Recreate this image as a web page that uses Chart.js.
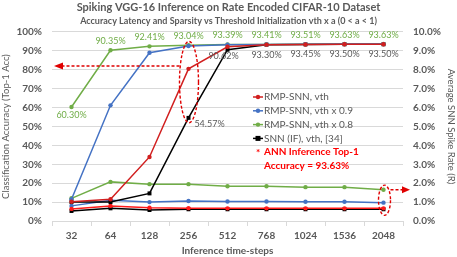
<!DOCTYPE html>
<html>
<head>
<meta charset="utf-8">
<script src="https://cdn.jsdelivr.net/npm/chart.js@4.4.1/dist/chart.umd.min.js"></script>
<style>
html,body{margin:0;padding:0;background:#fff;}
#wrap{width:457px;height:257px;}
</style>
</head>
<body>
<div id="wrap"><canvas id="c" width="457" height="257"></canvas></div>
<script>
// ---- data ----
const categories = ['32','64','128','256','512','768','1024','1536','2048'];
const seriesNames = ['RMP-SNN, vth','RMP-SNN, vth x 0.9','RMP-SNN, vth x 0.8','SNN (IF), vth, [34]'];
// Top-1 accuracy (%)
const accRmpVth = [10.2, 11.5, 33.9, 80.5, 92.2, 93.3, 93.4, 93.5, 93.5];
const accRmp09  = [11.5, 61.2, 89.0, 92.6, 93.3, 93.4, 93.5, 93.6, 93.6];
const accRmp08  = [60.30, 90.35, 92.41, 93.04, 93.39, 93.41, 93.51, 93.63, 93.63];
const accSnnIf  = [10.0, 10.0, 14.6, 54.57, 90.62, 93.30, 93.45, 93.50, 93.50];
// Average spike rate (%)
const spkRmpVth = [0.64, 0.80, 0.70, 0.68, 0.67, 0.67, 0.67, 0.67, 0.67];
const spkRmp09  = [0.80, 1.10, 1.00, 1.06, 1.03, 1.03, 1.02, 1.02, 0.97];
const spkRmp08  = [1.20, 2.07, 1.95, 1.95, 1.84, 1.84, 1.79, 1.79, 1.65];
const spkSnnIf  = [0.53, 0.67, 0.58, 0.62, 0.62, 0.62, 0.62, 0.62, 0.62];
const leftTicks = [0,10,20,30,40,50,60,70,80,90,100];
const annAccuracy = 93.63;
const highlightAcc = 82; // dashed arrow level (left axis)

const GRAY = '#595959';
const RED = '#d11f1f', RED2 = '#ff1a1a', BLUE = '#4472c4', GREEN = '#70ad47', BLACK = '#000000';
const FONT = 'Lato, "Open Sans", sans-serif';

function ds(label, data, color, axis, square) {
  return {
    label, data, yAxisID: axis, borderColor: color, backgroundColor: color,
    borderWidth: 1.5, pointRadius: square ? 2.8 : 2.2, pointStyle: square ? 'rect' : 'circle',
    pointBorderWidth: 0, tension: 0, fill: false
  };
}

const overlay = {
  id: 'overlay',
  afterDatasetsDraw(chart) {
    const ctx = chart.ctx, x = chart.scales.x, yl = chart.scales.y, yr = chart.scales.y2;
    ctx.save();
    ctx.font = '9px ' + FONT;
    ctx.textAlign = 'center'; ctx.textBaseline = 'middle';
    // green labels
    ctx.fillStyle = GREEN;
    accRmp08.forEach((v, i) => {
      const px = x.getPixelForValue(i), py = yl.getPixelForValue(v);
      ctx.fillText(v.toFixed(2) + '%', px, i === 0 ? py + 8 : py - 9);
    });
    // black labels
    ctx.fillStyle = GRAY;
    accSnnIf.forEach((v, i) => {
      if (i < 3) return;
      const px = x.getPixelForValue(i), py = yl.getPixelForValue(v);
      if (i === 3) ctx.fillText(v.toFixed(2) + '%', px + 21, py + 6);
      else if (i === 4) ctx.fillText(v.toFixed(2) + '%', px - 4, py + 6);
      else ctx.fillText(v.toFixed(2) + '%', px, py + 10);
    });
    // annotations
    ctx.strokeStyle = '#e00000'; ctx.fillStyle = '#e00000';
    ctx.lineWidth = 1.4; ctx.setLineDash([3, 2]);
    // ellipse around 256
    const ex = x.getPixelForValue(3);
    const eyTop = yl.getPixelForValue(95), eyBot = yl.getPixelForValue(52);
    const ecy = (eyTop + eyBot) / 2, ery = (eyBot - eyTop) / 2;
    ctx.beginPath(); ctx.ellipse(ex + 0.5, ecy, 9.5, ery, 0, 0, Math.PI * 2); ctx.stroke();
    // left arrow
    const ay = yl.getPixelForValue(highlightAcc);
    ctx.beginPath(); ctx.moveTo(ex - 9, ay); ctx.lineTo(chart.chartArea.left + 10, ay); ctx.stroke();
    ctx.setLineDash([]);
    ctx.beginPath(); ctx.moveTo(chart.chartArea.left + 2, ay); ctx.lineTo(chart.chartArea.left + 11, ay - 3.5);
    ctx.lineTo(chart.chartArea.left + 11, ay + 3.5); ctx.closePath(); ctx.fill();
    // ellipse around 2048
    ctx.setLineDash([3, 2]);
    const ex2 = x.getPixelForValue(8);
    const e2t = yr.getPixelForValue(1.9), e2b = yr.getPixelForValue(0.3);
    ctx.beginPath(); ctx.ellipse(ex2 + 1, (e2t + e2b) / 2, 6, (e2b - e2t) / 2, 0, 0, Math.PI * 2); ctx.stroke();
    const ay2 = yr.getPixelForValue(spkRmp08[8]);
    ctx.beginPath(); ctx.moveTo(ex2 + 7, ay2); ctx.lineTo(chart.chartArea.right + 1, ay2); ctx.stroke();
    ctx.setLineDash([]);
    ctx.beginPath(); ctx.moveTo(chart.chartArea.right + 7, ay2); ctx.lineTo(chart.chartArea.right - 1, ay2 - 3.5);
    ctx.lineTo(chart.chartArea.right - 1, ay2 + 3.5); ctx.closePath(); ctx.fill();
    ctx.restore();
  },
  afterDraw(chart) {
    const ctx = chart.ctx;
    ctx.save();
    const colors = [RED, BLUE, GREEN, BLACK];
    const lx = 253, ly0 = 97, step = 13.8;
    ctx.font = '10px ' + FONT; ctx.textBaseline = 'middle'; ctx.textAlign = 'left';
    seriesNames.forEach((n, i) => {
      const y = ly0 + i * step;
      ctx.strokeStyle = colors[i]; ctx.lineWidth = 1.5;
      ctx.beginPath(); ctx.moveTo(lx, y); ctx.lineTo(lx + 10, y); ctx.stroke();
      ctx.fillStyle = colors[i];
      if (i === 3) ctx.fillRect(lx + 2.5, y - 2.5, 5, 5);
      else { ctx.beginPath(); ctx.arc(lx + 5, y, 2.2, 0, Math.PI * 2); ctx.fill(); }
      ctx.fillStyle = GRAY;
      ctx.fillText(n, lx + 11, y);
    });
    ctx.fillStyle = '#ff0000';
    ctx.font = 'bold 10px ' + FONT;
    const y4 = ly0 + 4 * step;
    ctx.fillText('*', lx + 3, y4 + 1);
    ctx.fillText('ANN Inference Top-1', lx + 11, y4);
    ctx.fillText('Accuracy = ' + annAccuracy.toFixed(2) + '%', lx + 11, y4 + 14);
    ctx.restore();
  }
};

new Chart(document.getElementById('c'), {
  type: 'line',
  data: {
    labels: categories,
    datasets: [
      ds(seriesNames[0], accRmpVth, RED, 'y', false),
      ds(seriesNames[1], accRmp09, BLUE, 'y', false),
      ds(seriesNames[2], accRmp08, GREEN, 'y', false),
      ds(seriesNames[3], accSnnIf, BLACK, 'y', true),
      ds(seriesNames[0] + ' R', spkRmpVth, RED2, 'y2', false),
      ds(seriesNames[1] + ' R', spkRmp09, BLUE, 'y2', false),
      ds(seriesNames[2] + ' R', spkRmp08, GREEN, 'y2', false),
      ds(seriesNames[3] + ' R', spkSnnIf, BLACK, 'y2', true)
    ]
  },
  options: {
    responsive: false, animation: false, devicePixelRatio: 1,
    layout: { padding: { left: 0, right: 0, top: 0, bottom: 0 } },
    plugins: {
      legend: { display: false }, tooltip: { enabled: false },
      title: { display: true, text: 'Spiking VGG-16 Inference on Rate Encoded CIFAR-10 Dataset',
        color: GRAY, font: { family: FONT, size: 11, weight: 'bold' }, padding: { top: 1, bottom: 0 } },
      subtitle: { display: true, text: 'Accuracy Latency and Sparsity vs Threshold Initialization vth x a (0 < a < 1)',
        color: GRAY, font: { family: FONT, size: 9, weight: 'bold' }, padding: { top: 1, bottom: 6 } }
    },
    scales: {
      x: {
        offset: true,
        grid: { offset: true, drawOnChartArea: false, color: '#d9d9d9', tickLength: 5 },
        border: { color: '#d9d9d9' },
        ticks: { color: GRAY, font: { family: FONT, size: 10, weight: 'bold' }, padding: 4, maxRotation: 0 },
        title: { display: true, text: 'Inference time-steps', color: GRAY, font: { family: FONT, size: 10, weight: 'bold' }, padding: { top: 1, bottom: 0 } },
        afterFit(s) { s.height = 36; }
      },
      y: {
        position: 'left', min: 0, max: 100,
        afterBuildTicks(s) { s.ticks = leftTicks.map(v => ({ value: v })); },
        grid: { color: '#d9d9d9', drawTicks: false },
        border: { display: false },
        ticks: { color: GRAY, font: { family: FONT, size: 10, weight: 'bold' }, padding: 10, callback: v => v + '%' },
        title: { display: true, text: 'Classification Accuracy (Top-1 Acc)', color: GRAY, font: { family: FONT, size: 9.5 }, padding: 0 },
        afterFit(s) { s.width = 52; }
      },
      y2: {
        position: 'right', min: 0, max: 10,
        afterBuildTicks(s) { s.ticks = leftTicks.map(v => ({ value: v / 10 })); },
        grid: { drawOnChartArea: false, drawTicks: false },
        border: { display: false },
        ticks: { color: GRAY, font: { family: FONT, size: 10, weight: 'bold' }, padding: 10, callback: v => v.toFixed(1) + '%' },
        title: { display: true, text: 'Average SNN Spike Rate (R)', color: GRAY, font: { family: FONT, size: 9.5 }, padding: 0 },
        afterFit(s) { s.width = 54; }
      }
    }
  },
  plugins: [overlay]
});
</script>
</body>
</html>
